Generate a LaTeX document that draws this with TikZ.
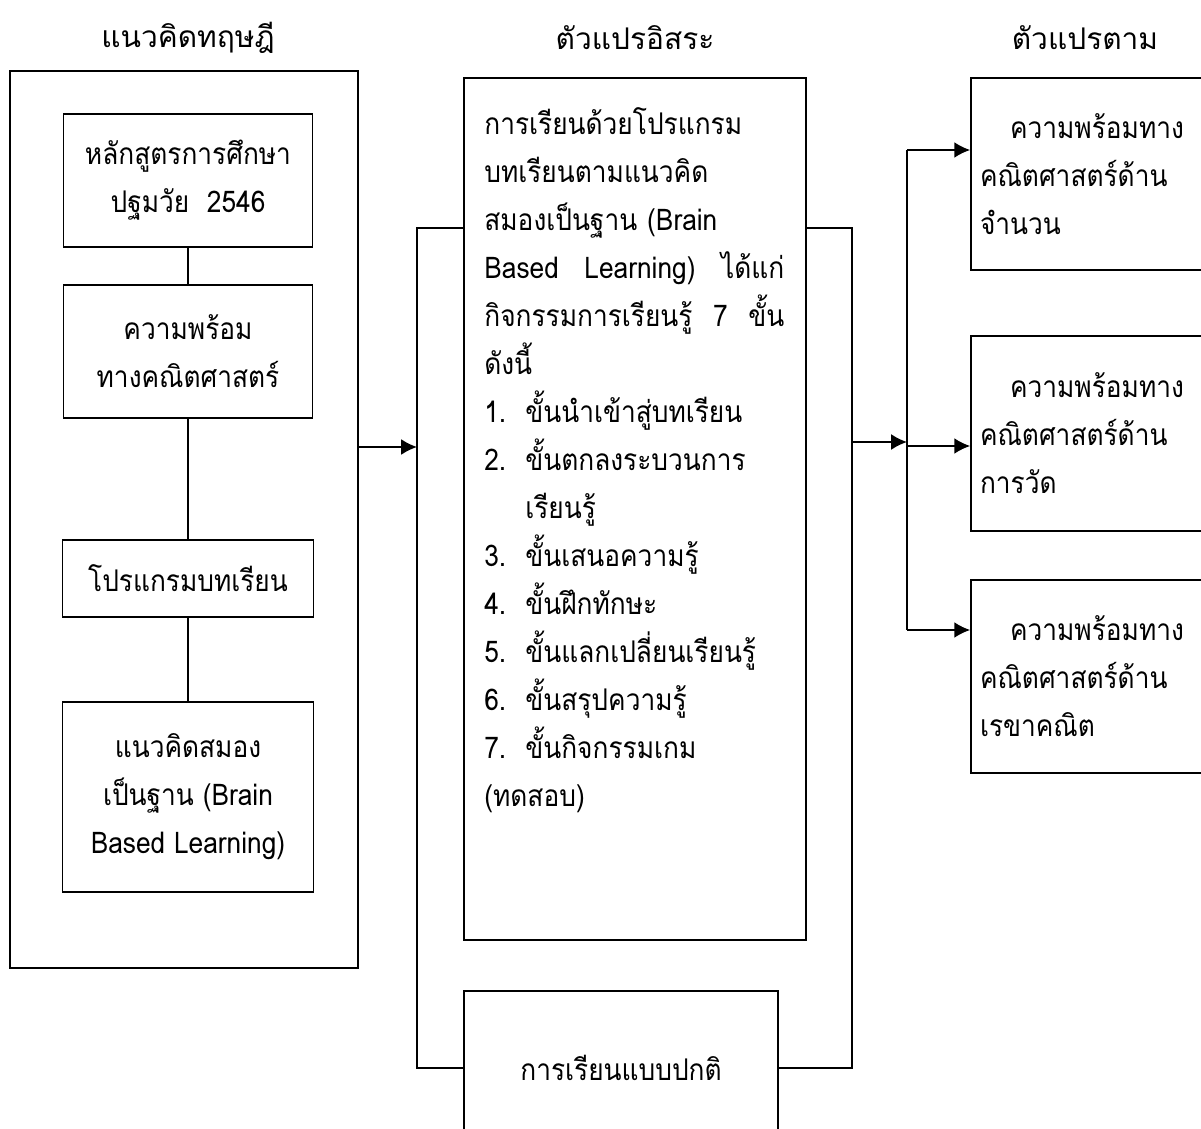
\documentclass[tikz,border=0pt]{standalone}
\usepackage{fontspec}
\setmainfont[Script=Thai, FakeStretch=0.88]{Loma}
\newfontfamily\headfont[Script=Thai]{Loma}
\usetikzlibrary{arrows.meta}

\newcommand{\thsize}{\fontsize{17pt}{27.3pt}\selectfont}

\begin{document}
\begin{tikzpicture}[
  box/.style={draw, line width=1pt, inner sep=0pt, font=\thsize},
  arr/.style={-{Latex[length=9pt,width=9pt]}, line width=1pt}]
\clip (0,0) rectangle (24.02,22.56);
% headings
\node (htheory) at (3.76,21.8) {\headfont\thsize แนวคิดทฤษฎี};
\node (hindep) at (12.7,21.8) {\headfont\thsize ตัวแปรอิสระ};
\node (hdep) at (21.7,21.8) {\headfont\thsize ตัวแปรตาม};
% theory column
\node[box, minimum width=6.96cm, minimum height=17.94cm] (theory) at (3.68,12.17) {};
\node[box, align=center, minimum width=4.98cm, minimum height=2.66cm] (curr) at (3.76,18.95) {หลักสูตรการศึกษา\\ปฐมวัย\ \ 2546};
\node[box, align=center, minimum width=4.98cm, minimum height=2.66cm] (ready) at (3.76,15.53) {ความพร้อม\\ทางคณิตศาสตร์};
\node[box, align=center, minimum width=5.02cm, minimum height=1.54cm] (prog) at (3.76,10.99) {โปรแกรมบทเรียน};
\node[box, align=center, minimum width=5.02cm, minimum height=3.8cm] (bbl) at (3.76,6.62) {แนวคิดสมอง\\เป็นฐาน (Brain\\Based Learning)};
\draw[line width=1pt] (curr.south) -- (ready.north)
(ready.south) -- (prog.north)
(prog.south) -- (bbl.north);
% independent variable
\node[box, minimum width=6.84cm, minimum height=17.24cm] (main) at (12.7,12.38) {};
\node[font=\thsize, inner sep=0pt, text width=6.0cm, align=left, anchor=base west] (steps) at (9.68,19.86) {%
การเรียนด้วยโปรแกรม\\
บทเรียนตามแนวคิด\\
สมองเป็นฐาน (Brain\\
Based\hfill Learning)\hfill ได้แก่\\
กิจกรรมการเรียนรู้\hfill 7\hfill ขั้น\\
ดังนี้\\
\makebox[0.82cm][l]{1.}ขั้นนำเข้าสู่บทเรียน\\
\makebox[0.82cm][l]{2.}ขั้นตกลงระบวนการ\\
\hspace*{0.82cm}เรียนรู้\\
\makebox[0.82cm][l]{3.}ขั้นเสนอความรู้\\
\makebox[0.82cm][l]{4.}ขั้นฝึกทักษะ\\
\makebox[0.82cm][l]{5.}ขั้นแลกเปลี่ยนเรียนรู้\\
\makebox[0.82cm][l]{6.}ขั้นสรุปความรู้\\
\makebox[0.82cm][l]{7.}ขั้นกิจกรรมเกม\\
(ทดสอบ)};
\node[box, minimum width=6.28cm, minimum height=3.08cm] (usual) at (12.42,1.2) {การเรียนแบบปกติ};
% dependent variables
\node[box, inner xsep=0.18cm, text width=5.4cm, align=left, minimum height=3.84cm] (dep1) at (22.3,19.08) {\hspace*{0.6cm}ความพร้อมทาง\\คณิตศาสตร์ด้าน\\จำนวน};
\node[box, inner xsep=0.18cm, text width=5.4cm, align=left, minimum height=3.9cm] (dep2) at (22.3,13.89) {\hspace*{0.6cm}ความพร้อมทาง\\คณิตศาสตร์ด้าน\\การวัด};
\node[box, inner xsep=0.18cm, text width=5.4cm, align=left, minimum height=3.86cm] (dep3) at (22.3,9.03) {\hspace*{0.6cm}ความพร้อมทาง\\คณิตศาสตร์ด้าน\\เรขาคณิต};
% connectors
\coordinate (ltop) at (8.34,18.0);
\coordinate (lbot) at (8.34,1.2);
\coordinate (lin) at (8.34,13.62);
\coordinate (rtop) at (17.04,18.0);
\coordinate (rbot) at (17.04,1.2);
\coordinate (rout) at (17.04,13.72);
\coordinate (bus) at (18.14,13.72);
\coordinate (btop) at (18.14,19.56);
\coordinate (bmid) at (18.14,13.64);
\coordinate (bbot) at (18.14,9.96);
\draw[arr] (theory.east |- lin) -- (lin);
\draw[line width=1pt] (main.west |- ltop) -- (ltop) -- (lbot) -- (usual.west |- lbot);
\draw[line width=1pt] (main.east |- rtop) -- (rtop) -- (rbot) -- (usual.east |- rbot);
\draw[arr] (rout) -- (bus);
\draw[line width=1pt] (btop) -- (bbot);
\draw[arr] (btop) -- (btop -| dep1.west);
\draw[arr] (bmid) -- (bmid -| dep2.west);
\draw[arr] (bbot) -- (bbot -| dep3.west);
\end{tikzpicture}
\end{document}
